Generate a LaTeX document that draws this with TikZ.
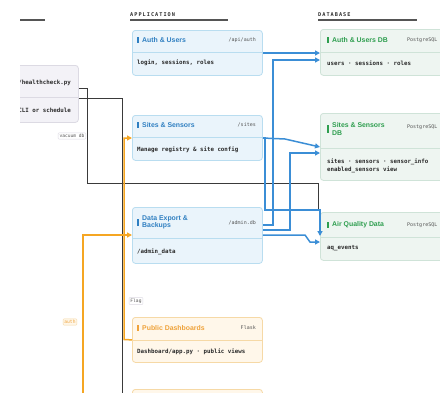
\documentclass[tikz,border=0pt]{standalone}
\usepackage{fontspec}
\setmainfont{Liberation Sans}
\newfontfamily\monof{DejaVu Sans Mono}
\newfontfamily\capsf[LetterSpace=20]{DejaVu Sans Mono}
\usetikzlibrary{arrows.meta}
\definecolor{appfill}{HTML}{EAF4FB}
\definecolor{appdraw}{HTML}{B9DDF0}
\definecolor{apptext}{HTML}{2F7FC1}
\definecolor{dbfill}{HTML}{EEF5F1}
\definecolor{dbdraw}{HTML}{CFE3D8}
\definecolor{dbtext}{HTML}{2E9E4F}
\definecolor{orfill}{HTML}{FFF7EA}
\definecolor{ordraw}{HTML}{F6D9A6}
\definecolor{ortext}{HTML}{EFA23A}
\definecolor{lfill}{HTML}{F3F2F7}
\definecolor{ldraw}{HTML}{DCDAE3}
\definecolor{blueline}{HTML}{3B8ED6}
\definecolor{orline}{HTML}{F5A623}
\definecolor{dkline}{HTML}{3A3A3A}
\definecolor{txt}{HTML}{2B2B2B}
\definecolor{subtxt}{HTML}{555555}
\begin{document}
\begin{tikzpicture}[x=1pt,y=-1pt,
  boxbase/.style={rounded corners=3pt, line width=0.8pt, anchor=north west, inner sep=0pt},
  appbox/.style={boxbase, draw=appdraw, fill=appfill, minimum width=130pt},
  orbox/.style={boxbase, draw=ordraw, fill=orfill, minimum width=130pt},
  dbbox/.style={boxbase, draw=dbdraw, fill=dbfill, minimum width=140pt},
  lbox/.style={boxbase, draw=ldraw, fill=lfill},
  hdr/.style={font=\fontsize{6.9}{7.6}\selectfont\bfseries, anchor=west, inner sep=0pt, align=left},
  route/.style={font=\monof\fontsize{5}{6}\selectfont, text=subtxt, inner sep=0pt},
  body/.style={font=\monof\bfseries\fontsize{5.8}{7.5}\selectfont, text=txt, anchor=west, inner sep=0pt, align=left},
  colhdr/.style={font=\capsf\fontsize{5.2}{6}\selectfont\bfseries, text=txt, anchor=south west, inner sep=0pt},
  uline/.style={draw=subtxt, line width=1.3pt},
  sepline/.style={draw=#1, line width=0.6pt},
  hbarline/.style={draw=#1, line width=1.3pt},
  bl/.style={draw=blueline, line width=1.5pt, -{Triangle[length=5pt,width=5pt]}},
  orl/.style={draw=orline, line width=1.5pt, -{Triangle[length=5pt,width=5pt]}},
  dk/.style={draw=dkline, line width=1pt},
  lbl/.style={font=\monof\fontsize{4.6}{5.2}\selectfont, draw=ldraw, fill=white, rounded corners=1pt, inner sep=1.4pt, text=subtxt},
  orlbl/.style={font=\monof\fontsize{4.6}{5.2}\selectfont, draw=ordraw, fill=orfill, rounded corners=1pt, inner sep=1.4pt, text=ortext}
]
\useasboundingbox (0,0) rectangle (440,392);
\fill[white] (0,0) rectangle (440,392);

% column headers
\draw[uline] (20,20) -- (45,20);
\node[colhdr] (apphdr) at (130,17) {APPLICATION};
\draw[uline] (130,20) -- (228,20);
\node[colhdr] (dbhdr) at (318,17) {DATABASE};
\draw[uline] (318,20) -- (417,20);

% left box (cut)
\begin{scope}
\clip (20,0) rectangle (440,392);
\node[lbox, minimum width=98pt, minimum height=57pt] (cli) at (-20,65) {};
\draw[sepline=ldraw] (-20,97) -- (78,97);
\node[body, anchor=east] (clia) at (71,83) {cron/healthcheck.py};
\node[body, anchor=east] (clib) at (71,110) {CLI or schedule};
\end{scope}

% application boxes
\node[appbox, minimum height=45pt] (auth) at (132,30) {};
\draw[sepline=appdraw] (132,52) -- (262,52);
\draw[hbarline=apptext] (138,37) -- (138,43);
\node[hdr, text=apptext] (autht) at (142,40) {Auth \& Users};
\node[route, anchor=east] (authr) at (256,40) {/api/auth};
\node[body] (authb) at (137,63) {login, sessions, roles};

\node[appbox, minimum height=45pt] (sites) at (132,115) {};
\draw[sepline=appdraw] (132,137) -- (262,137);
\draw[hbarline=apptext] (138,122) -- (138,128);
\node[hdr, text=apptext] (sitest) at (142,125) {Sites \& Sensors};
\node[route, anchor=east] (sitesr) at (256,125) {/sites};
\node[body] (sitesb) at (137,150) {Manage registry \& site config};

\node[appbox, minimum height=56pt] (export) at (132,207) {};
\draw[sepline=appdraw] (132,238) -- (262,238);
\draw[hbarline=apptext] (138,219) -- (138,226);
\node[hdr, text=apptext] (exportt) at (142,222.5) {Data Export \&\\Backups};
\node[route, anchor=east] (exportr) at (256,222.5) {/admin.db};
\node[body] (exportb) at (137,252) {/admin\_data};

\node[orbox, minimum height=45pt] (public) at (132,317) {};
\draw[sepline=ordraw] (132,340) -- (262,340);
\draw[hbarline=ortext] (138,325) -- (138,331);
\node[hdr, text=ortext] (publict) at (142,328) {Public Dashboards};
\node[route, anchor=east] (publicr) at (256,328) {Flask};
\node[body] (publicb) at (137,352) {Dashboard/app.py · public views};

\node[orbox, minimum height=40pt] (more) at (132,389) {};

% database boxes
\node[dbbox, minimum height=46pt] (authdb) at (320,29) {};
\draw[sepline=dbdraw] (320,52) -- (460,52);
\draw[hbarline=dbtext] (328,37) -- (328,43);
\node[hdr, text=dbtext] (authdbt) at (332,40) {Auth \& Users DB};
\node[route, anchor=west] (authdbr) at (407,40) {PostgreSQL};
\node[body] (authdbb) at (327,63) {users · sessions · roles};

\node[dbbox, minimum height=67pt] (sitesdb) at (320,113) {};
\draw[sepline=dbdraw] (320,148) -- (460,148);
\draw[hbarline=dbtext] (328,125) -- (328,133);
\node[hdr, text=dbtext] (sitesdbt) at (332,129) {Sites \& Sensors\\DB};
\node[route, anchor=west] (sitesdbr) at (407,127) {PostgreSQL};
\node[body] (sitesdbb) at (327,166) {sites · sensors · sensor\_info\\enabled\_sensors view};

\node[dbbox, minimum height=48pt] (aqdb) at (320,212) {};
\draw[sepline=dbdraw] (320,237) -- (460,237);
\draw[hbarline=dbtext] (328,222) -- (328,228);
\node[hdr, text=dbtext] (aqdbt) at (332,225) {Air Quality Data};
\node[route, anchor=west] (aqdbr) at (407,225) {PostgreSQL};
\node[body] (aqdbb) at (327,248) {aq\_events};

% dark connectors
\draw[dk] (cli.east |- 0,88) -- (87,88) -- (87,183) -- (318,183) -- (318,210);
\node[lbl] (lblvac) at (72,136) {vacuum db};
\draw[dk] (cli.east |- 0,98) -- (122,98) |- (more.west);
\node[lbl] (lblflag) at (136,301) {Flag};

% orange connectors
\draw[orl] (public.west) -- (124,339.5) -- (124,138) -- (sites.west |- 0,138);
\coordinate (ostart) at (83,400);
\draw[orl] (ostart) -- (83,235) -- (export.west |- 0,235);
\node[orlbl] (lblauth) at (70,322) {auth};

% blue connectors
\draw[bl] (auth.east |- 0,53) -- (authdb.west |- 0,53);
\draw[bl] (export.east |- 0,225) -- (273,225) -- (273,60) -- (authdb.west |- 0,60);
\draw[bl] (sites.east |- 0,138) -- (285,139) -- (sitesdb.west |- 0,147);
\draw[bl] (export.east |- 0,230) -- (290,230) -- (290,153) -- (sitesdb.west |- 0,153);
\draw[bl] (export.east |- 0,235) -- (305,235) -- (310,242) -- (aqdb.west |- 0,242);
\draw[bl] (sites.east |- 0,138) -- (265,138) -- (265,210) -- (320,210) -- (320,236);
\end{tikzpicture}
\end{document}
